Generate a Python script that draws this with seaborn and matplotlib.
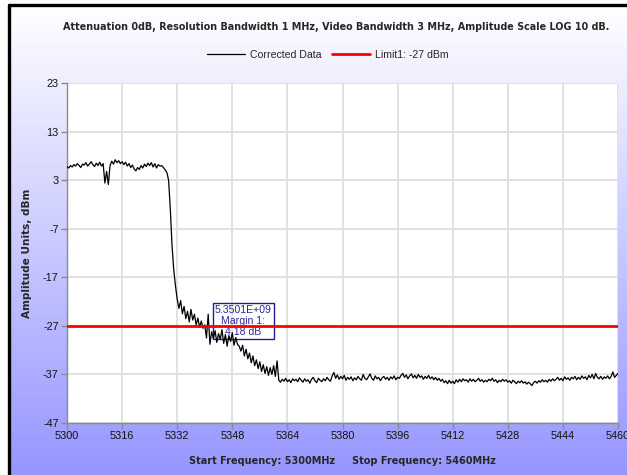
import numpy as np
import pandas as pd
import matplotlib
matplotlib.use("Agg")
import matplotlib.pyplot as plt
import seaborn as sns
from matplotlib.lines import Line2D

# Sweep settings
start_mhz = 5300
stop_mhz = 5460

# Measured level per sweep point (0.5 MHz spacing), dBm
level_dbm = [
    # 5300 - 5310.5
    5.8, 5.5, 6.0, 5.7, 6.2, 5.9, 6.4, 6.0, 5.6, 6.3, 6.1, 6.6, 5.9, 6.3, 6.8, 6.2, 5.8, 6.5, 6.0, 6.7, 5.9, 6.4,
    # 5311 - 5329.5
    2.4, 4.8, 2.1, 6.0, 6.9, 6.3, 7.2, 6.6, 7.0, 6.4, 6.8, 6.2, 6.7, 5.9, 6.4, 5.6, 6.1, 5.3, 4.9, 5.6,
    5.2, 6.0, 5.5, 6.3, 5.8, 6.5, 6.0, 6.6, 5.7, 6.4, 5.5, 6.2, 5.9, 6.0, 5.6, 5.1, 4.6, 3.0,
    # 5330 - 5361.5 (band edge roll-off)
    -3.0, -10.5, -15.5, -18.8, -21.5, -23.4, -21.8, -24.5, -23.0, -25.5,
    -24.0, -26.2, -23.6, -25.8, -24.6, -26.8, -25.4, -27.3, -26.0, -27.5,
    -26.8, -29.5, -24.6, -30.8, -28.2, -29.6, -28.0, -30.4, -28.6, -29.8,
    -27.8, -30.6, -28.8, -31.2, -29.0, -30.2, -28.4, -31.0, -29.4, -30.8,
    -31.18, -32.2, -31.0, -33.2, -31.8, -33.8, -32.6, -34.6, -33.2, -35.2,
    -34.0, -35.8, -34.4, -36.4, -35.0, -36.8, -35.4, -37.2, -35.6, -37.0,
    -35.2, -37.4, -34.2, -38.2,
    # 5362 - 5460 (noise floor)
    -38.6, -38.0, -38.4, -37.8, -38.5, -38.1, -38.7, -37.9, -38.3, -38.0,
    -38.5, -37.7, -38.2, -38.6, -37.9, -38.4, -38.1, -38.8, -38.0, -37.6,
    -38.3, -38.7, -37.8, -38.2, -38.5, -37.9, -38.3, -37.6, -38.1, -38.4,
    -37.3, -36.6, -37.8, -37.1, -38.0, -37.4, -37.9, -37.2, -38.2, -37.6,
    -38.0, -37.5, -38.3, -37.7, -38.1, -37.4, -37.9, -38.2, -37.0, -37.8,
    -38.1, -37.5, -36.9, -37.8, -38.2, -37.3, -37.9, -37.6, -38.3, -37.7,
    -37.4, -38.0, -37.6, -38.2, -37.5, -37.9, -37.3, -38.1, -37.6, -37.8,
    -37.2, -36.8, -37.6, -37.1, -37.9, -37.3, -36.9, -37.7, -37.2, -37.8,
    -37.0, -37.6, -37.3, -38.0, -37.4, -37.8, -37.2, -37.9, -37.5, -38.1,
    -37.6, -38.2, -37.8, -38.4, -38.0, -38.7, -38.3, -38.9, -38.2, -38.8,
    -38.4, -38.9, -38.1, -38.6, -38.0, -38.5, -37.9, -38.3, -38.1, -38.6,
    -37.9, -38.4, -38.0, -38.5, -38.2, -37.8, -38.4, -38.1, -38.6, -38.2,
    -38.5, -38.0, -38.3, -37.8, -38.4, -38.1, -38.7, -38.2, -38.5, -38.0,
    -38.4, -38.1, -38.6, -38.3, -38.8, -38.2, -38.5, -38.9, -38.4, -38.7,
    -38.3, -38.8, -38.5, -39.0, -38.6, -38.9, -39.3, -38.7, -38.4, -38.8,
    -38.3, -38.6, -38.1, -38.5, -38.2, -38.6, -38.0, -38.4, -37.9, -38.3,
    -38.0, -37.6, -38.2, -37.8, -38.3, -37.5, -38.0, -37.7, -38.2, -37.6,
    -37.9, -37.4, -38.1, -37.6, -38.0, -37.3, -37.8, -37.5, -38.1, -37.2,
    -37.7, -37.0, -37.9, -36.8, -37.6, -37.9, -37.4, -38.0, -37.5, -37.8,
    -37.3, -37.9, -37.4, -36.5, -37.6, -37.2, -36.8,
]

limit_dbm = -27
marker_hz = 5.3501e9
marker_dbm = -31.18

x_ticks = list(range(5300, 5461, 16))
y_ticks = list(range(23, -48, -10))

freq_mhz = np.linspace(start_mhz, stop_mhz, len(level_dbm))
df = pd.DataFrame({"freq": freq_mhz, "level": level_dbm})

sns.set_theme(style="white")
plt.rcParams["font.family"] = ["Liberation Sans", "DejaVu Sans"]
plt.rcParams["axes.unicode_minus"] = False

W, H = 627, 475
fig = plt.figure(figsize=(W / 100, H / 100), dpi=100, facecolor="white")

# Vertical white-to-lavender backdrop inside the outer frame
bg = fig.add_axes([9 / W, 0, 1 - 9 / W, 1 - 5 / H], zorder=-10)
t = np.linspace(0, 1, 256).reshape(-1, 1, 1)
c_top = np.array([1.0, 1.0, 1.0])
c_bot = np.array([150, 150, 255]) / 255
bg.imshow(c_top + (c_bot - c_top) * t, aspect="auto", extent=[0, 1, 0, 1], origin="upper")
bg.axis("off")

# Outer black frame (top and left edges)
fig.add_artist(Line2D([9 / W, 9 / W], [0, 1 - 5 / H], color="black", lw=2.4, transform=fig.transFigure))
fig.add_artist(Line2D([9 / W, 1], [1 - 5 / H, 1 - 5 / H], color="black", lw=2.4, transform=fig.transFigure))

ax = fig.add_axes([67 / W, 1 - 423 / H, (618 - 67) / W, (423 - 83) / H])
ax.set_facecolor("white")

sns.lineplot(data=df, x="freq", y="level", color="black", lw=0.9, ax=ax,
             label="Corrected Data", zorder=4)
ax.axhline(limit_dbm, color="#ff0000", lw=2.0, zorder=5, label=f"Limit1: {limit_dbm} dBm")

margin = limit_dbm - marker_dbm
ax.text(5351.2, -26.0, f"{marker_hz:.4E}\nMargin 1:\n{margin:.2f} dB",
        ha="center", va="center", fontsize=7.6, color="#2a2a9c", linespacing=1.15, zorder=3,
        bbox=dict(boxstyle="square,pad=0.2", fc="none", ec="#1e1e8c", lw=1.0))

ax.set_xlim(start_mhz, stop_mhz)
ax.set_ylim(-47, 23)
ax.set_xticks(x_ticks)
ax.set_yticks(y_ticks)
ax.grid(True, color="#dedede", lw=1.3)
ax.set_axisbelow(True)
for side in ("top", "right"):
    ax.spines[side].set_visible(False)
for side in ("left", "bottom"):
    ax.spines[side].set_color("#8a8a8a")
    ax.spines[side].set_linewidth(1.0)
ax.tick_params(direction="out", length=4, width=1, color="#8a8a8a", labelsize=7.8,
               labelcolor="#111111", pad=2, left=True, bottom=True)

ax.set_xlabel("")
ax.set_ylabel("Amplitude Units, dBm", fontsize=7.6, fontweight="bold",
              family=["DejaVu Sans"])
ax.yaxis.set_label_coords((32 - 67) / (618 - 67), 0.5)

ax.get_legend().remove()
handles, labels = ax.get_legend_handles_labels()
fig.legend(handles, labels, loc="center", bbox_to_anchor=(328 / W, 1 - 55 / H), ncol=2,
           frameon=False, fontsize=7.6, handlelength=3.6, columnspacing=1.0, handletextpad=0.5)

fig.text(336 / W, 1 - 27 / H,
         "Attenuation 0dB, Resolution Bandwidth 1 MHz, Video Bandwidth 3 MHz, Amplitude Scale LOG 10 dB.",
         ha="center", va="center", fontsize=6.95, fontweight="bold", family=["DejaVu Sans"])
fig.text(342 / W, 1 - 461 / H,
         f"Start Frequency: {start_mhz}MHz     Stop Frequency: {stop_mhz}MHz",
         ha="center", va="center", fontsize=7.0, fontweight="bold", family=["DejaVu Sans"])

fig.savefig("out.png", dpi=100, facecolor="white")
